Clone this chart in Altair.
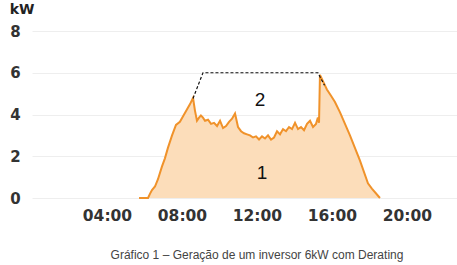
import altair as alt
import pandas as pd

hours = [5.71, 6.19, 6.29, 6.40, 6.56, 6.72, 6.93, 7.09, 7.25, 7.47, 7.68, 7.89, 8.05, 8.21, 8.43, 8.59,
         8.69, 8.80, 8.91, 9.01, 9.12, 9.23, 9.39, 9.55, 9.71, 9.87, 10.03, 10.19, 10.35, 10.51, 10.67,
         10.83, 10.99, 11.15, 11.31, 11.47, 11.63, 11.79, 11.95, 12.11, 12.27, 12.43, 12.59, 12.75, 12.91,
         13.07, 13.23, 13.39, 13.55, 13.71, 13.87, 14.03, 14.19, 14.35, 14.51, 14.67, 14.83, 14.99, 15.15,
         15.25, 15.31, 15.36, 15.52, 15.73, 15.95, 16.16, 16.43, 16.96, 17.49, 17.92, 18.13, 18.56]
kw = [0.0, 0.0, 0.2, 0.38, 0.55, 0.9, 1.5, 1.9, 2.4, 3.0, 3.5, 3.65, 3.9, 4.15, 4.5, 4.8,
      4.2, 3.7, 3.85, 3.95, 3.85, 3.7, 3.75, 3.55, 3.6, 3.45, 3.7, 3.35, 3.45, 3.65, 3.8,
      4.05, 3.4, 3.2, 3.1, 3.05, 3.0, 2.9, 2.95, 2.8, 2.95, 2.85, 3.0, 2.8, 2.9,
      3.2, 3.05, 3.3, 3.2, 3.4, 3.3, 3.6, 3.3, 3.4, 3.25, 3.55, 3.7, 3.4, 3.55,
      3.85, 3.6, 5.9, 5.6, 5.2, 4.9, 4.6, 4.1, 3.0, 1.8, 0.7, 0.45, 0.0]

limit_hours = [8.59, 9.12, 15.25, 15.6]
limit_kw = [4.77, 6.0, 6.0, 5.4]

region_labels = ["2", "1"]
region_hours = [12.16, 12.27]
region_kw = [4.7, 1.2]

x_ticks = [4, 8, 12, 16, 20]
y_ticks = [0, 2, 4, 6, 8]
title_text = "Gráfico 1 – Geração de um inversor 6kW com Derating"

gen = pd.DataFrame({"h": hours, "kw": kw})
lim = pd.DataFrame({"h": limit_hours, "kw": limit_kw})
lab = pd.DataFrame({"h": region_hours, "kw": region_kw, "t": region_labels})

xs = alt.Scale(domain=[0, 22.67], nice=False, zero=False)
ys = alt.Scale(domain=[0, 8], nice=False)

x_axis = alt.Axis(values=x_ticks, labelExpr="(datum.value < 10 ? '0' : '') + datum.value + ':00'",
                  grid=False, domain=False, ticks=False, title=None, labelFont="DejaVu Sans",
                  labelFontWeight="bold", labelFontSize=15.5, labelColor="#333333", labelPadding=10)
y_axis = alt.Axis(values=y_ticks, grid=True, gridColor="#eeeeee", gridWidth=1, domain=False, ticks=False,
                  title=None, labelFont="DejaVu Sans", labelFontWeight="bold", labelFontSize=15,
                  labelColor="#333333", labelPadding=17, labelAlign="center")

area = alt.Chart(gen).mark_area(color="#FCDDBA", opacity=1).encode(
    x=alt.X("h:Q", scale=xs, axis=x_axis),
    y=alt.Y("kw:Q", scale=ys, axis=y_axis),
)
line = alt.Chart(gen).mark_line(color="#F0922A", strokeWidth=2).encode(
    x=alt.X("h:Q", scale=xs), y=alt.Y("kw:Q", scale=ys))
dash = alt.Chart(lim).mark_line(color="#111111", strokeWidth=1.2, strokeDash=[3, 2]).encode(
    x=alt.X("h:Q", scale=xs), y=alt.Y("kw:Q", scale=ys))
labels = alt.Chart(lab).mark_text(font="Liberation Sans", fontSize=19, color="#111111").encode(
    x=alt.X("h:Q", scale=xs), y=alt.Y("kw:Q", scale=ys), text="t:N")

unit = alt.Chart(pd.DataFrame({"t": ["kW"]})).mark_text(
    font="DejaVu Sans", fontWeight="bold", fontSize=14, color="#222222", align="center", baseline="middle"
).encode(x=alt.value(-10), y=alt.value(-21), text="t:N")

title = alt.Chart(pd.DataFrame({"t": [title_text]})).mark_text(
    font="Liberation Sans", fontSize=12, color="#444444", align="center", baseline="alphabetic"
).encode(x=alt.value(225), y=alt.value(228), text="t:N")

chart = alt.layer(area, line, dash, labels, unit, title).properties(
    width=425, height=167,
    autosize=alt.AutoSizeParams(type="none"),
    padding={"left": 32, "top": 31, "right": 0, "bottom": 67},
).configure(background="white").configure_view(stroke=None, strokeWidth=0)

chart.save("out.html", embed_options={"renderer": "svg", "actions": False})
